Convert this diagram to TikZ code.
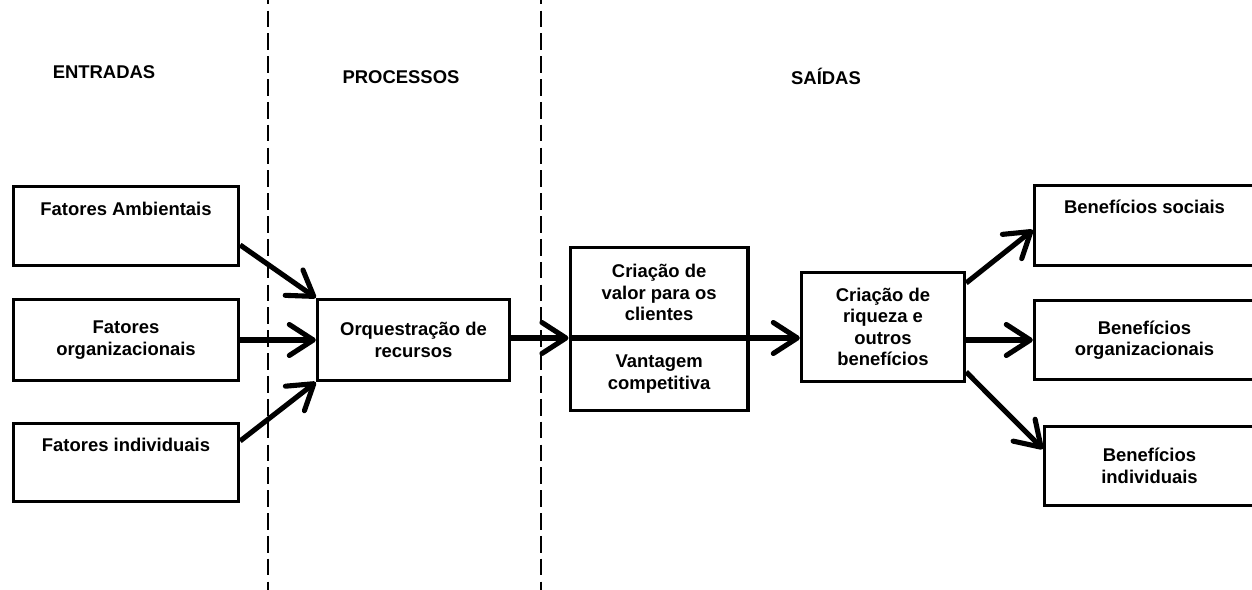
\documentclass[tikz,border=0pt]{standalone}
\usepackage{fontspec}
\setmainfont{Liberation Sans}
\usetikzlibrary{arrows.meta}
\usetikzlibrary{shapes.multipart}

\begin{document}
\begin{tikzpicture}[x=0.02cm,y=-0.02cm,
        font=\fontsize{10.5}{12.2}\selectfont\bfseries,
        caixa/.style={draw,line width=1.9pt,align=center,inner xsep=2pt},
        caixatopo/.style={caixa,text height=0.57cm,text depth=1.0cm,inner ysep=0pt},
        seta/.style={line width=2.9pt,-{Straight Barb[length=0.48cm,width=0.62cm,round]}},
        divisa/.style={line width=0.9pt,dash pattern=on 9.5pt off 3.5pt,dash phase=-6pt}]

            \useasboundingbox (0,0) rectangle (1252,590);
            %\draw [help lines] (0,0) grid (1252,590);

            \draw[divisa] (268,0) -- (268,590);
            \draw[divisa] (541,0) -- (541,590);

            \path   (104,72)  node (entradas) {ENTRADAS}
                    (401,77)  node (processos) {PROCESSOS}
                    (826,76)  node (saidas) {SAÍDAS};

            \path   (126,226) node (amb) [caixatopo,minimum width=4.5cm] {Fatores Ambientais}
                    (126,340) node (org) [caixa,minimum width=4.5cm,minimum height=1.62cm] {Fatores\\organizacionais}
                    (126,462.5) node (ind) [caixatopo,minimum width=4.5cm] {Fatores individuais}
                    (413.5,340) node (orq) [caixa,minimum width=3.84cm,minimum height=1.62cm] {Orquestração de\\recursos}
                    (568.5,338) node (valor) [caixa,rectangle split,rectangle split parts=2,anchor=text split west,
                                             minimum width=3.56cm,inner ysep=0.31cm]
                                             {Criação de\\valor para os\\clientes \nodepart{two} Vantagem\\competitiva}
                    (883,327) node (riq) [caixa,minimum width=3.26cm,minimum height=2.18cm] {Criação de\\riqueza e\\outros\\benefícios}
                    (1144.5,225.5) node (soc) [caixatopo,minimum width=4.4cm,text height=0.56cm,text depth=1.03cm] {Benefícios sociais}
                    (1144.5,340) node (borg) [caixa,minimum width=4.4cm,minimum height=1.58cm] {Benefícios\\organizacionais}
                    (1149.5,466) node (bind) [caixa,minimum width=4.2cm,minimum height=1.58cm] {Benefícios\\individuais};

            \draw[seta] ([yshift=-0.38cm]amb.east) -- (orq.north west);
            \draw[seta] (node cs: name=org, anchor=east) -- (node cs: name=orq, anchor=west);
            \draw[seta] ([yshift=0.43cm]ind.east) -- (orq.south west);

            \draw[seta] (orq.east |- valor.text split west) -- (valor.text split west);
            \draw[line width=2.9pt] (valor.text split west) -- (valor.text split east);
            \draw[seta] (valor.text split east) -- (valor.text split east -| riq.west);

            \draw[seta] ([yshift=0.88cm]riq.east) -- ([yshift=-0.09cm]soc.west);
            \draw[seta] (riq.east |- borg.west) -- (borg.west);
            \draw[seta] ([yshift=-0.9cm]riq.east) -- ([yshift=0.34cm]bind.west);

        \end{tikzpicture}
\end{document}
